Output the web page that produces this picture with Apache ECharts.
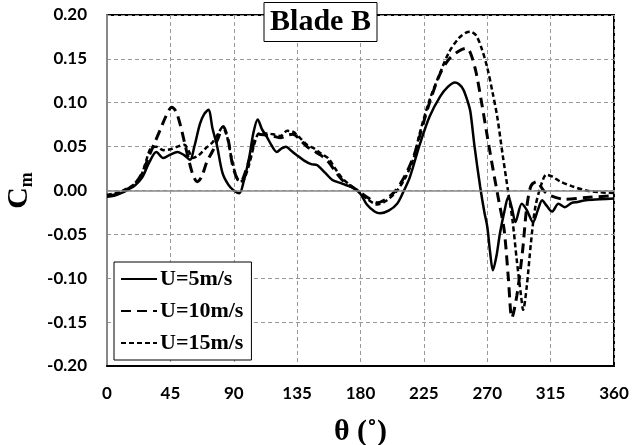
<!DOCTYPE html>
<html><head><meta charset="utf-8">
<script src="https://cdn.jsdelivr.net/npm/echarts@6/dist/echarts.min.js"></script>
<style>html,body{margin:0;padding:0;background:#fff}#c{width:641px;height:445px}</style>
</head><body><div id="c"></div>
<script>
const seriesNames = ['U=5m/s', 'U=10m/s', 'U=15m/s'];
const xTicks = [0, 45, 90, 135, 180, 225, 270, 315, 360];
const yTicks = [-0.20, -0.15, -0.10, -0.05, 0.00, 0.05, 0.10, 0.15, 0.20];

const u5 = [[0,-0.007],[5,-0.006],[10,-0.003],[15,0.001],[20,0.006],[25,0.015],[30,0.032],[35,0.044],[40,0.037],[45,0.041],[50,0.044],[55,0.040],[59,0.035],[62,0.050],[66,0.076],[69,0.087],[72,0.092],[75,0.070],[78,0.052],[82,0.020],[86,0.007],[90,0.000],[94,-0.003],[97,0.010],[101,0.038],[104,0.066],[107,0.081],[110,0.070],[113.5,0.061],[117,0.051],[120.5,0.044],[124,0.048],[127,0.050],[131,0.045],[135,0.040],[140,0.034],[145,0.030],[149,0.029],[155,0.020],[160,0.012],[165,0.009],[170,0.006],[175,0.003],[180,-0.004],[184.5,-0.016],[190,-0.024],[194,-0.026],[200,-0.023],[206,-0.015],[210,-0.003],[215,0.015],[222,0.052],[229,0.084],[236.5,0.107],[242,0.118],[247,0.123],[250,0.121],[253,0.115],[256,0.102],[258,0.090],[261,0.050],[265,0.004],[268,-0.025],[270,-0.041],[272,-0.070],[274,-0.091],[276.5,-0.075],[279,-0.049],[282,-0.025],[285,-0.007],[287.5,-0.020],[290,-0.036],[294.5,-0.015],[298,-0.022],[302.5,-0.036],[306,-0.022],[309,-0.011],[312,-0.017],[316,-0.024],[320.5,-0.015],[325,-0.019],[330,-0.014],[334,-0.013],[340,-0.011],[350,-0.010],[360,-0.009]];

const u10 = [[0,-0.006],[5,-0.005],[10,-0.002],[15,0.002],[20,0.008],[25,0.020],[30,0.040],[34,0.055],[38,0.070],[42,0.085],[46,0.095],[49,0.090],[52,0.075],[55,0.055],[58,0.035],[61,0.018],[64,0.010],[67,0.015],[71,0.033],[75,0.045],[79,0.060],[82.5,0.073],[86,0.058],[89,0.030],[92,0.015],[95,0.010],[98,0.020],[102,0.040],[105,0.058],[108,0.064],[113,0.063],[118,0.062],[123,0.060],[128,0.063],[132,0.064],[137,0.058],[142,0.050],[147,0.045],[152,0.040],[157,0.033],[162,0.022],[167,0.012],[172,0.006],[178,0.000],[185,-0.008],[192,-0.014],[198,-0.010],[205,0.000],[212,0.018],[218,0.040],[222,0.062],[229,0.100],[236.5,0.133],[243,0.150],[250,0.159],[255,0.162],[258,0.157],[262,0.135],[266,0.100],[270,0.062],[274,0.025],[278,-0.010],[282,-0.045],[285,-0.100],[287.5,-0.145],[291,-0.120],[295,-0.070],[298,-0.020],[301,0.005],[305,0.010],[310,0.000],[315,-0.006],[325,-0.010],[340,-0.008],[360,-0.006]];

const u15 = [[0,-0.005],[10,-0.001],[20,0.008],[25,0.020],[28,0.035],[31,0.048],[35,0.050],[40,0.046],[45,0.047],[50,0.050],[55,0.052],[58,0.045],[61,0.037],[65,0.040],[70,0.048],[75,0.055],[79,0.065],[82,0.072],[85,0.063],[88,0.040],[91,0.020],[94,0.010],[97,0.012],[101,0.030],[105,0.055],[108,0.065],[113,0.065],[118,0.064],[123,0.062],[128,0.068],[132,0.067],[137,0.060],[142,0.052],[147,0.048],[152,0.042],[157,0.037],[162,0.025],[167,0.014],[172,0.007],[178,0.000],[185,-0.010],[192,-0.016],[198,-0.012],[205,-0.002],[212,0.015],[218,0.038],[222,0.065],[229,0.103],[236.5,0.134],[243,0.158],[250,0.174],[255,0.180],[258,0.181],[262,0.177],[266,0.162],[270,0.140],[274,0.110],[277,0.085],[281,0.040],[285,-0.003],[288,-0.035],[291,-0.080],[294,-0.120],[295.5,-0.136],[298,-0.110],[301,-0.060],[304,-0.020],[308,0.005],[312,0.018],[316,0.016],[322,0.010],[330,0.005],[340,0.000],[350,-0.002],[360,-0.003]];

const chart = echarts.init(document.getElementById('c'), null, {renderer: 'canvas'});
const labelFont = {fontFamily: 'Lato', fontWeight: 'bold', fontSize: 17, color: '#000'};
chart.setOption({
  animation: false,
  backgroundColor: '#fff',
  title: {
    text: 'Blade B', left: 'center', top: 2,
    padding: [5, 6, 5, 6],
    borderColor: '#000', borderWidth: 1, backgroundColor: '#fff',
    textStyle: {fontFamily: 'Liberation Serif', fontWeight: 'bold', fontSize: 30, color: '#000'}
  },
  legend: {
    orient: 'vertical', left: 114, top: 262,
    padding: [6, 8, 6, 6],
    borderColor: '#000', borderWidth: 1, backgroundColor: '#fff',
    itemWidth: 36, itemHeight: 14, itemGap: 10,
    itemStyle: {opacity: 0},
    data: seriesNames,
    textStyle: {fontFamily: 'Liberation Serif', fontWeight: 'bold', fontSize: 22, color: '#000', padding: [0,0,0,-2]}
  },
  grid: {left: 107, right: 27, top: 15, bottom: 79, outerBoundsMode: 'none', containLabel: false,
    show: true, borderColor: '#000', borderWidth: 2, backgroundColor: 'transparent'},
  xAxis: {
    type: 'value', min: 0, max: 360, interval: 45,
    name: 'θ (˚)', nameLocation: 'middle', nameGap: 51,
    nameTextStyle: {fontFamily: 'Liberation Serif', fontWeight: 'bold', fontSize: 30, color: '#000'},
    axisLine: {onZero: false, lineStyle: {color: '#000', width: 2}},
    axisTick: {show: false},
    axisLabel: Object.assign({margin: 19, formatter: v => xTicks.includes(v) ? String(v) : ''}, labelFont),
    splitLine: {show: true, lineStyle: {color: '#999', type: [4, 3], width: 1}}
  },
  yAxis: {
    type: 'value', min: -0.20, max: 0.20, interval: 0.05,
    name: '{c|C}{m|m}', nameLocation: 'middle', nameGap: 68,
    nameTextStyle: {rich: {
      c: {fontFamily: 'Liberation Serif', fontWeight: 'bold', fontSize: 30, color: '#000'},
      m: {fontFamily: 'Liberation Serif', fontWeight: 'bold', fontSize: 18, color: '#000', verticalAlign: 'bottom', padding: [16, 0, 0, 0]}
    }},
    axisLine: {show: true, lineStyle: {color: '#888', width: 2}},
    axisTick: {show: false},
    axisLabel: Object.assign({margin: 20, formatter: v => v.toFixed(2)}, labelFont),
    splitLine: {show: true, lineStyle: {color: '#999', type: [4, 3], width: 1}}
  },
  series: [
    {name: seriesNames[0], type: 'line', data: u5, smooth: 0.3, symbol: 'none',
     lineStyle: {color: '#000', width: 2.5, type: 'solid'}, itemStyle: {color: '#000'},
     markLine: {silent: true, symbol: 'none', label: {show: false},
       lineStyle: {color: '#888', type: 'solid', width: 1.5}, data: [{yAxis: 0}]}},
    {name: seriesNames[1], type: 'line', data: u10, smooth: 0.3, symbol: 'none',
     lineStyle: {color: '#000', width: 3, type: [10, 6]}, itemStyle: {color: '#000'}},
    {name: seriesNames[2], type: 'line', data: u15, smooth: 0.3, symbol: 'none',
     lineStyle: {color: '#000', width: 2.5, type: [5, 3]}, itemStyle: {color: '#000'}}
  ]
});
</script>
</body></html>
